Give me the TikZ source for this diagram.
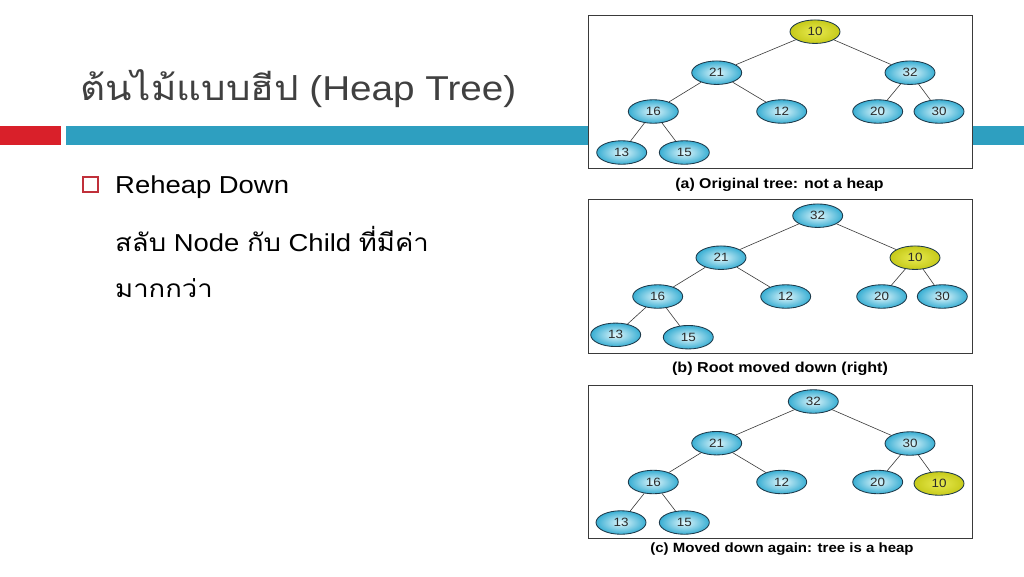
\documentclass[tikz,border=0pt]{standalone}
\usepackage{fontspec}
\setmainfont{Liberation Sans}[FakeStretch=1.12]
\newfontfamily\thaifont[Script=Thai,FakeStretch=1.12]{Loma}
\usetikzlibrary{shapes.geometric}
\definecolor{titlecol}{HTML}{404040}
\definecolor{redbar}{HTML}{D9202A}
\definecolor{bluebar}{HTML}{2E9FC0}
\definecolor{bulletcol}{HTML}{C0303A}
\definecolor{edgecol}{HTML}{3A3A3A}
\definecolor{ringcol}{HTML}{1E3A4A}
\definecolor{blueIn}{HTML}{E2F7FC}
\definecolor{blueOut}{HTML}{38AED3}
\definecolor{yelIn}{HTML}{E8EA50}
\definecolor{yelOut}{HTML}{C6CA1A}
\definecolor{numcol}{HTML}{2A2A2A}
\tikzset{
  hnode/.style={ellipse, draw=ringcol, line width=0.85pt, minimum width=50pt, minimum height=23.5pt,
    inner sep=0pt, inner color=blueIn, outer color=blueOut, text=numcol,
    font=\fontsize{12}{12}\selectfont},
  ynode/.style={hnode, inner color=yelIn, outer color=yelOut},
  tedge/.style={draw=edgecol, line width=0.6pt},
  panel/.style={draw=edgecol, line width=0.8pt, fill=white, anchor=north west, inner sep=0pt,
    minimum width=384pt, minimum height=153pt},
  caption/.style={text=black, inner sep=0pt},
  slidetext/.style={anchor=base west, inner sep=0pt, text=black, font=\fontsize{24.5}{24.5}\selectfont},
}
\begin{document}
\begin{tikzpicture}[x=1pt, y=-1pt]
\useasboundingbox[fill=white] (0,0) rectangle (1024,576);
% title
\node[anchor=base west, inner sep=0pt, text=titlecol, font=\fontsize{34.5}{34.5}\selectfont] (title) at (80,100)
  {{\thaifont ต้นไม้แบบฮีป} (Heap Tree)};
% bars
\fill[redbar] (0,126) rectangle (61,145);
\fill[bluebar] (66,126) rectangle (1024,145);
% bullet
\node[draw=bulletcol, line width=1.2pt, minimum size=15pt, inner sep=0pt] (bullet) at (90.5,184.5) {};
\node[slidetext] (l1) at (115,193) {Reheap Down};
\node[slidetext] (l2) at (115,251) {{\thaifont สลับ} Node {\thaifont กับ} Child {\thaifont ที่มีค่า}};
\node[slidetext] (l3) at (115,297) {{\thaifont มากกว่า}};
% panels
\node[panel] (boxa) at (588,15) {};
\node[panel, minimum height=154pt] (boxb) at (588,199) {};
\node[panel] (boxc) at (588,385) {};
\node[caption, font=\bfseries\fontsize{14.2}{14.2}\selectfont] (capa) at (779.5,184.5) {(a) Original tree: not a heap};
\node[caption, font=\bfseries\fontsize{14.4}{14.4}\selectfont] (capb) at (780,368.5) {(b) Root moved down (right)};
\node[caption, font=\bfseries\fontsize{13.4}{13.4}\selectfont] (capc) at (782,549.5) {(c) Moved down again: tree is a heap};
% tree a
\node[ynode] (a10) at (815,31.7) {10};
\node[hnode] (a21) at (716.7,72.7) {21};
\node[hnode] (a32) at (910,72.7) {32};
\node[hnode] (a16) at (653.3,111.5) {16};
\node[hnode] (a12) at (781.7,111.5) {12};
\node[hnode] (a20) at (877.7,111.5) {20};
\node[hnode] (a30) at (939,111.5) {30};
\node[hnode] (a13) at (621.7,152.5) {13};
\node[hnode] (a15) at (684.3,152.5) {15};
\draw[tedge] (a10) -- (a21) (a10) -- (a32) (a21) -- (a16) (a21) -- (a12)
  (a32) -- (a20) (a32) -- (a30) (a16) -- (a13) (a16) -- (a15);
% tree b
\node[hnode] (b32) at (817.7,215.7) {32};
\node[hnode] (b21) at (721,257.7) {21};
\node[ynode] (b10) at (915,257.7) {10};
\node[hnode] (b16) at (657.7,296.5) {16};
\node[hnode] (b12) at (785.7,296.5) {12};
\node[hnode] (b20) at (881.7,296.5) {20};
\node[hnode] (b30) at (942.3,296.5) {30};
\node[hnode] (b13) at (615.7,334.8) {13};
\node[hnode] (b15) at (688.3,337.2) {15};
\draw[tedge] (b32) -- (b21) (b32) -- (b10) (b21) -- (b16) (b21) -- (b12)
  (b10) -- (b20) (b10) -- (b30) (b16) -- (b13) (b16) -- (b15);
% tree c
\node[hnode] (c32) at (813.3,401.5) {32};
\node[hnode] (c21) at (716.7,443.2) {21};
\node[hnode] (c30) at (910,443.5) {30};
\node[hnode] (c16) at (653.3,482) {16};
\node[hnode] (c12) at (781.7,482) {12};
\node[hnode] (c20) at (877.7,482) {20};
\node[ynode] (c10) at (939,483.5) {10};
\node[hnode] (c13) at (621,522.5) {13};
\node[hnode] (c15) at (684.3,522.5) {15};
\draw[tedge] (c32) -- (c21) (c32) -- (c30) (c21) -- (c16) (c21) -- (c12)
  (c30) -- (c20) (c30) -- (c10) (c16) -- (c13) (c16) -- (c15);
\end{tikzpicture}
\end{document}
